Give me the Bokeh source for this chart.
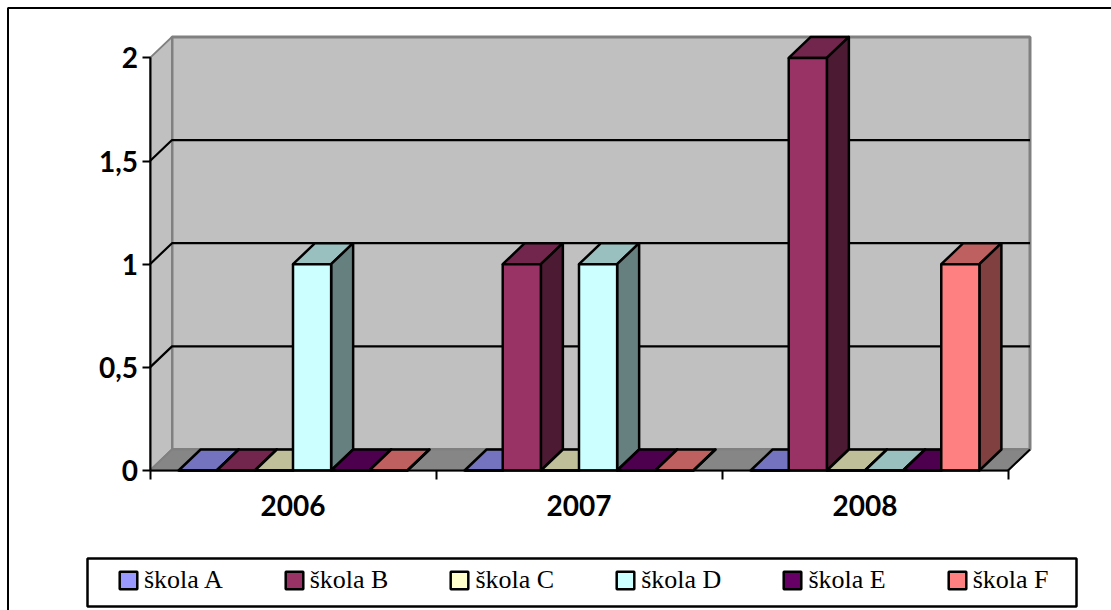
from bokeh.plotting import figure
from bokeh.models import (Range1d, FixedTicker, Legend, LegendItem)
from bokeh.embed import file_html
from bokeh.resources import INLINE

# ---- data
years = ["2006", "2007", "2008"]
schools = ["škola A", "škola B", "škola C", "škola D", "škola E", "škola F"]
skola_a = [0, 0, 0]
skola_b = [0, 1, 2]
skola_c = [0, 0, 0]
skola_d = [1, 1, 0]
skola_e = [0, 0, 0]
skola_f = [0, 0, 1]
series = [skola_a, skola_b, skola_c, skola_d, skola_e, skola_f]
y_ticks = [0, 0.5, 1, 1.5, 2]
y_labels = ["0", "0,5", "1", "1,5", "2"]

# ---- styles
front = ["#9999FF", "#993366", "#FFFFCC", "#CCFFFF", "#660066", "#FF8080"]
top_c = ["#7373BF", "#73264D", "#BFBF99", "#99BFBF", "#4D004D", "#BF6060"]
side_c = ["#4D4D80", "#4D1A33", "#808066", "#668080", "#330033", "#804040"]
WALL, EDGE, FLOOR = "#C0C0C0", "#808080", "#868686"
W, H = 1111, 610                     # canvas
OX, OY = 149.5, 470.0                # where value 0 / category 0 sit on the canvas
PX_X, PX_Y = 286.0, 206.3            # pixels per category / per value
DX, DY = 22 / PX_X, 21 / PX_Y        # oblique depth in data units
GAP = 1.5
BAR_W = 1 / (len(schools) + GAP)
TICK_FONT = "Lato"
LW = 2.5


def fx(px):
    return (px - OX) / PX_X


def fy(py):
    return (OY - py) / PX_Y


p = figure(width=W, height=H, output_backend="svg", toolbar_location=None,
           x_range=Range1d(fx(0), fx(W)), y_range=Range1d(fy(H), fy(0)),
           min_border=0, min_border_left=0, min_border_right=0, min_border_top=0, min_border_bottom=0,
           background_fill_color="white", border_fill_color="white", outline_line_color=None)
p.grid.visible = False

# chart-area border (its right and bottom sides fall outside the picture)
p.line([fx(7.5), fx(7.5), fx(W + 20)], [fy(H + 20), fy(7.5), fy(7.5)], line_color="black", line_width=2)
# legend box
p.quad(left=[fx(87)], right=[fx(1076)], top=[fy(558)], bottom=[fy(606)],
       fill_color="white", line_color="black", line_width=2.5)

n = len(years)
ymax = max(y_ticks)
# back wall, side wall, floor
p.quad(left=[DX], right=[n + DX], bottom=[DY], top=[ymax + DY],
       fill_color=WALL, line_color=EDGE, line_width=3)
p.patch([0, DX, DX, 0], [0, DY, ymax + DY, ymax], fill_color=WALL, line_color=EDGE, line_width=2)
p.patch([0, DX, n + DX, n], [0, DY, DY, 0], fill_color=FLOOR, line_color=EDGE, line_width=2)
p.line([n, n + DX], [0, DY], line_color="black", line_width=2)
# gridlines
grid = [v for v in y_ticks if 0 < v < ymax]
p.multi_line([[0, DX, n + DX] for v in grid], [[v, v + DY, v + DY] for v in grid],
             line_color="black", line_width=2.2)

items = []
for i, (name, vals) in enumerate(zip(schools, series)):
    lefts = [k + BAR_W * (GAP / 2 + i) for k in range(n)]
    rights = [l + BAR_W for l in lefts]
    centers = [l + BAR_W / 2 for l in lefts]
    p.patches([[l, l + DX, r + DX, r] for l, r in zip(lefts, rights)],
              [[v, v + DY, v + DY, v] for v in vals],
              fill_color=top_c[i], line_color="black", line_width=LW, line_join="round")
    p.patches([[r, r + DX, r + DX, r] for r in rights],
              [[0, DY, v + DY, v] for v in vals],
              fill_color=side_c[i], line_color="black", line_width=LW, line_join="round")
    bar = p.vbar(x=centers, top=vals, bottom=0, width=BAR_W,
                 fill_color=front[i], line_color="black", line_width=LW)
    items.append(LegendItem(label=name, renderers=[bar]))

# axes
ya = p.yaxis[0]
ya.fixed_location = 0
ya.ticker = FixedTicker(ticks=y_ticks)
ya.major_label_overrides = dict(zip(y_ticks, y_labels))
ya.bounds = (0, ymax)
ya.axis_line_color = "black"
ya.axis_line_width = 2
ya.major_tick_line_color = "black"
ya.major_tick_line_width = 2
ya.major_tick_out = 8
ya.major_tick_in = 0
ya.minor_tick_line_color = None
ya.major_label_standoff = 4
ya.major_label_text_font = TICK_FONT
ya.major_label_text_font_style = "bold"
ya.major_label_text_font_size = "28px"
ya.major_label_text_color = "black"

xa = p.xaxis[0]
xa.fixed_location = 0
xa.ticker = FixedTicker(ticks=[k + 0.5 for k in range(n)], minor_ticks=list(range(n + 1)))
xa.major_label_overrides = {k + 0.5: y for k, y in enumerate(years)}
xa.bounds = (0, n)
xa.axis_line_color = "black"
xa.axis_line_width = 2
xa.major_tick_line_color = None
xa.major_tick_out = 0
xa.major_tick_in = 0
xa.minor_tick_line_color = "black"
xa.minor_tick_line_width = 2
xa.minor_tick_out = 9
xa.minor_tick_in = 0
xa.major_label_standoff = 15
xa.major_label_text_font = TICK_FONT
xa.major_label_text_font_style = "bold"
xa.major_label_text_font_size = "28px"
xa.major_label_text_color = "black"

# legend
legend = Legend(items=items, orientation="horizontal", location=(117, 15),
                margin=0, padding=0, spacing=60,
                glyph_width=22, glyph_height=22, label_standoff=5,
                label_text_font="Liberation Serif", label_text_font_size="26px",
                label_text_color="black", label_height=26,
                border_line_color=None, background_fill_color=None)
p.add_layout(legend, "center")

open("out.html", "w").write(file_html(p, INLINE))
